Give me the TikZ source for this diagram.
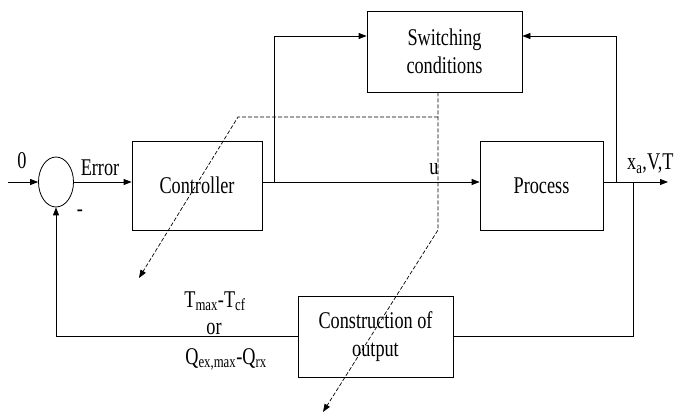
\documentclass[tikz,border=0pt]{standalone}
\usepackage{fontspec}
\setmainfont{Liberation Serif}[FakeStretch=0.76]
\usetikzlibrary{shapes.geometric,arrows.meta}
\begin{document}
\begin{tikzpicture}[x=1pt,y=-1pt,
  font=\fontsize{24}{28}\selectfont,
  box/.style={draw,line width=0.8pt,inner sep=0pt,align=center},
  conn/.style={line width=0.8pt},
  arr/.style={line width=0.8pt,-{Triangle[length=8pt,width=6pt]}},
  dsh/.style={line width=0.7pt,dash pattern=on 4pt off 2pt},
  dsharr/.style={dsh,-{Triangle[length=8pt,width=6pt]}},
  lab/.style={inner sep=0pt,anchor=base}]
\useasboundingbox (0,0) rectangle (677,414);
% blocks
\node[draw,line width=0.8pt,ellipse,minimum width=35pt,minimum height=50pt,inner sep=0pt] (sum) at (56,182) {};
\node[box,minimum width=130pt,minimum height=89pt] (ctrl) at (197,185.5) {Controller};
\node[box,minimum width=155pt,minimum height=81pt] (sw) at (444.5,51.5) {Switching\\conditions};
\node[box,minimum width=123pt,minimum height=89pt] (proc) at (541.5,185.5) {Process};
\node[box,minimum width=155pt,minimum height=81pt] (con) at (375.5,336.5) {Construction of\\output};
% coordinates
\coordinate (in) at (8,182);
\coordinate (b1) at (274,182);
\coordinate (t1) at (274,36);
\coordinate (b2) at (616,182);
\coordinate (b3) at (633,182);
\coordinate (out) at (668,182);
\coordinate (d1) at (438,117);
\coordinate (d2) at (438,230);
\coordinate (d3) at (238,117);
\coordinate (dt1) at (139,278);
\coordinate (dt2) at (323,412);
% connectors
\draw[arr] (in) -- (sum.west);
\draw[arr] (sum.east) -- (ctrl.west|-sum.east);
\draw[arr] (ctrl.east|-sum.east) -- (proc.west|-sum.east);
\draw[arr] (b1) -- (t1) -- (t1-|sw.west);
\draw[arr] (proc.east|-sum.east) -- (out);
\draw[arr] (b2) -- (b2|-t1) -- (t1-|sw.east);
\draw[conn] (b3) |- (con.east);
\draw[arr] (con.west) -| (sum.south);
% dashed
\draw[dsharr] (sw.south-|d1) -- (d2) -- (dt2);
\draw[dsharr] (d1) -- (d3) -- (dt1);
% labels
\node[lab] (l0) at (22,169) {0};
\node[lab] (lerr) at (100,176) {Error};
\node[lab] (lminus) at (80,216) {-};
\node[lab] (lu) at (434,175) {u};
\node[lab,anchor=base west] (lout) at (627,170) {x\textsubscript{a},V,T};
\node[lab] (lt) at (215,307) {T\textsubscript{max}-T\textsubscript{cf}};
\node[lab] (lor) at (214,334) {or};
\node[lab] (lq) at (226,364) {Q\textsubscript{ex,max}-Q\textsubscript{rx}};
\end{tikzpicture}
\end{document}
